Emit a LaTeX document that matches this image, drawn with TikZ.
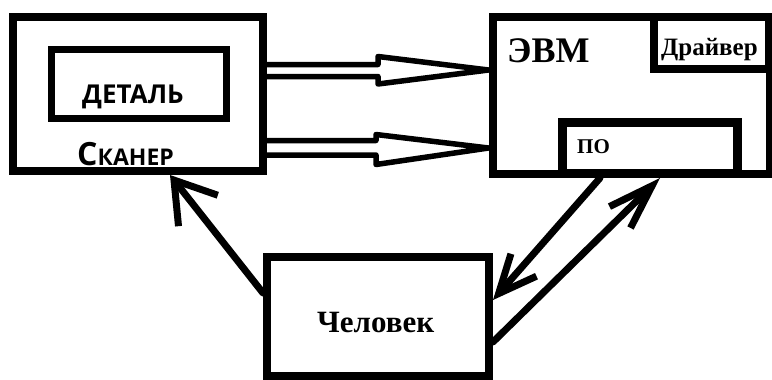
\documentclass[tikz,border=0pt]{standalone}
\usepackage{fontspec}
\setmainfont{Liberation Serif}
\newfontfamily\sansb{Open Sans}
\usetikzlibrary{arrows.meta,calc}
\begin{document}
\begin{tikzpicture}[x=1pt,y=-1pt,
  box/.style={draw=black,fill=white,rectangle,inner sep=0pt,line width=8pt},
  lbl/.style={anchor=base west,inner sep=0pt,font=\bfseries},
  hollow/.style={draw=black,fill=white,line width=5.5pt,line join=round},
  conn/.style={draw=black,line width=7pt,line cap=round}
]
\useasboundingbox (0,0) rectangle (772,380);
% boxes
\node[box,minimum width=250pt,minimum height=154pt] (scanner) at (138,94) {};
\node[box,line width=7pt,minimum width=175pt,minimum height=69pt] (detail) at (139,84) {};
\node[box,minimum width=277pt,minimum height=157pt] (evm) at (631,95.5) {};
\node[box,minimum width=115pt,minimum height=52pt] (driver) at (711.5,43) {};
\node[box,line width=9pt,minimum width=175.5pt,minimum height=51.5pt] (po) at (650,148) {};
\node[box,minimum width=222pt,minimum height=119pt] (human) at (378,316.5) {};
% labels
\node[lbl,font=\sansb\bfseries\fontsize{26}{26}\selectfont] (tdetail) at (82,103) {ДЕТАЛЬ};
\node[lbl,font=\sansb\bfseries] (tscanner) at (77,165) {\fontsize{32}{32}\selectfont С\fontsize{23}{23}\selectfont КАНЕР};
\node[lbl,font=\bfseries\fontsize{36}{36}\selectfont] (tevm) at (507,62) {ЭВМ};
\node[lbl,font=\bfseries\fontsize{25}{25}\selectfont] (tdriver) at (661,55) {Драйвер};
\node[lbl,font=\bfseries\fontsize{21}{21}\selectfont] (tpo) at (577,153) {ПО};
\node[lbl,font=\bfseries\fontsize{31}{31}\selectfont] (thuman) at (317,332) {Человек};
% hollow double arrows scanner -> evm
\coordinate (u0) at (scanner.east |- 0,70.5);
\coordinate (u1) at (evm.west |- 0,70);
\draw[hollow] ($(u0)+(0,-6)$) -- (378,64.5) -- (378,56.5) -- (u1) -- (378,84) -- (378,76.5) -- ($(u0)+(0,6)$);
\coordinate (l0) at (scanner.east |- 0,148);
\coordinate (l1) at (evm.west |- 0,148);
\draw[hollow] ($(l0)+(0,-7.5)$) -- (376,140.5) -- (376,134.5) -- (l1) -- (376,164.5) -- (376,155) -- ($(l0)+(0,7)$);
% human -> scanner
\coordinate (h1) at (human.west |- 0,293);
\coordinate (s1) at (170,0 |- scanner.south);
\draw[conn,-{Straight Barb[length=39pt,width=50pt]}] (h1) -- (s1);
% evm -> human
\coordinate (e1) at (600,0 |- evm.south);
\coordinate (h2) at (human.east |- 0,300);
\draw[conn,-{Straight Barb[length=38pt,width=34pt]}] (e1) -- (h2);
% human -> evm
\coordinate (h3) at (human.east |- 0,342);
\coordinate (e2) at (660,0 |- evm.south);
\draw[conn,-{Straight Barb[length=45pt,width=30pt]}] (h3) -- (e2);
\end{tikzpicture}
\end{document}
